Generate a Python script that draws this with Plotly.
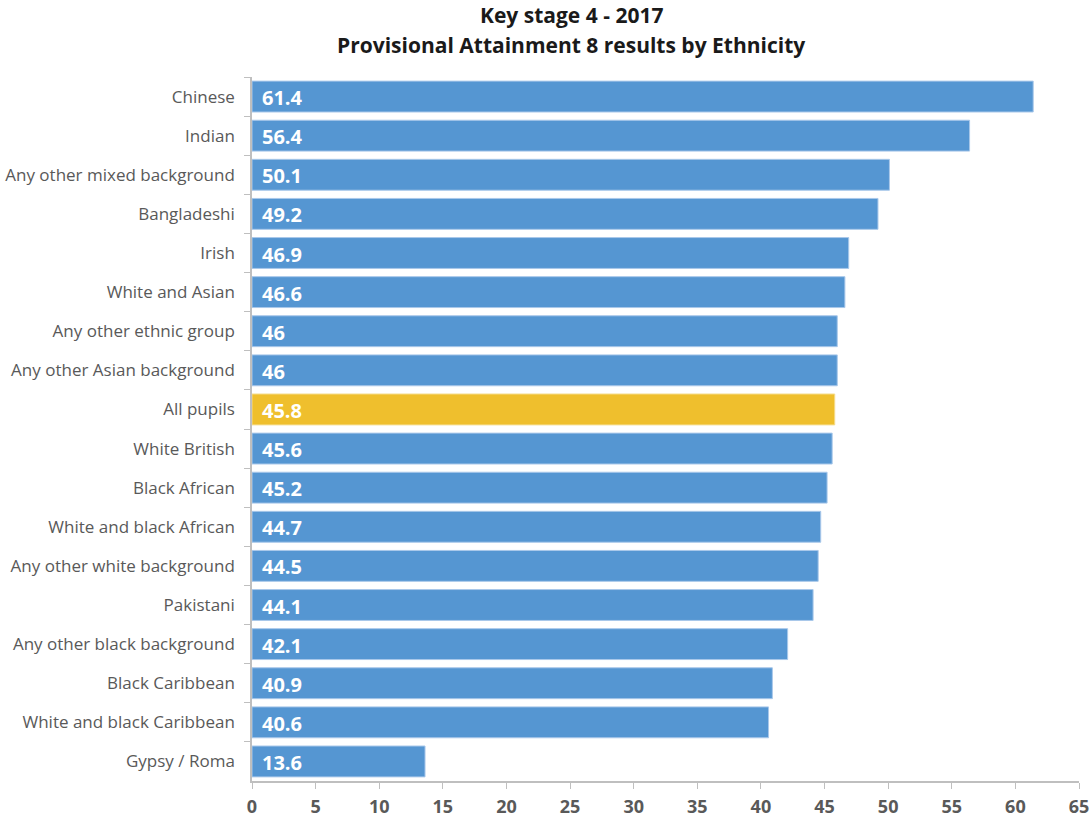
import plotly.graph_objects as go

# Provisional Attainment 8 scores, Key Stage 4 2017, by ethnic group
groups = [
    "Chinese", "Indian", "Any other mixed background", "Bangladeshi", "Irish",
    "White and Asian", "Any other ethnic group", "Any other Asian background",
    "All pupils", "White British", "Black African", "White and black African",
    "Any other white background", "Pakistani", "Any other black background",
    "Black Caribbean", "White and black Caribbean", "Gypsy / Roma",
]
scores = [61.4, 56.4, 50.1, 49.2, 46.9, 46.6, 46, 46, 45.8, 45.6, 45.2, 44.7,
          44.5, 44.1, 42.1, 40.9, 40.6, 13.6]
highlight = "All pupils"

title_lines = ["Key stage 4 - 2017", "Provisional Attainment 8 results by Ethnicity"]

x_ticks = list(range(0, 70, 5))

BLUE = "#5596D2"
GOLD = "#EFBF2D"
colors = [GOLD if g == highlight else BLUE for g in groups]
edges = ["#F5DC8A" if g == highlight else "#A9C8EA" for g in groups]

FONT = "Open Sans, Lato, sans-serif"

fig = go.Figure(
    go.Bar(
        x=scores,
        y=groups,
        orientation="h",
        width=0.79,
        marker=dict(color=colors, line=dict(color=edges, width=1)),
        hoverinfo="x+y",
    )
)

# value labels sit inside each bar, near its base
for g, v in zip(groups, scores):
    fig.add_annotation(
        x=0, y=g, text=f"<b>{v:g}</b>", showarrow=False,
        xanchor="left", yanchor="middle", xshift=8, yshift=-1,
        font=dict(family=FONT, size=20, color="white"),
    )

# two-line heading above the plot area
for line, shift in zip(title_lines, [62, 32]):
    fig.add_annotation(
        xref="paper", yref="paper", x=0.386, y=1, yshift=shift,
        xanchor="center", yanchor="middle", showarrow=False,
        text=f"<b>{line}</b>",
        font=dict(family=FONT, size=21, color="#1a1a1a"),
    )

fig.update_layout(
    width=1092, height=821,
    margin=dict(l=252, r=13, t=77, b=40, autoexpand=False),
    paper_bgcolor="white", plot_bgcolor="white",
    showlegend=False,
)

fig.update_xaxes(
    range=[0, 65], tickvals=x_ticks, ticktext=[str(t) for t in x_ticks],
    automargin=False,
    showgrid=False, zeroline=False,
    showline=True, linecolor="#BFBFBF", linewidth=1.5,
    ticks="outside", ticklen=6, tickcolor="#BFBFBF",
    ticklabelstandoff=3,
    tickfont=dict(family=FONT, size=18, color="#595959", weight="bold"),
)
fig.update_yaxes(
    categoryorder="array", categoryarray=groups, autorange="reversed",
    automargin=False,
    showgrid=False, zeroline=False,
    showline=True, linecolor="#BFBFBF", linewidth=1.5,
    ticks="outside", ticklen=6, tickcolor="#BFBFBF", tickson="boundaries",
    ticklabelstandoff=12,
    tickfont=dict(family=FONT, size=17, color="#595959"),
)

fig.write_html("out.html")
